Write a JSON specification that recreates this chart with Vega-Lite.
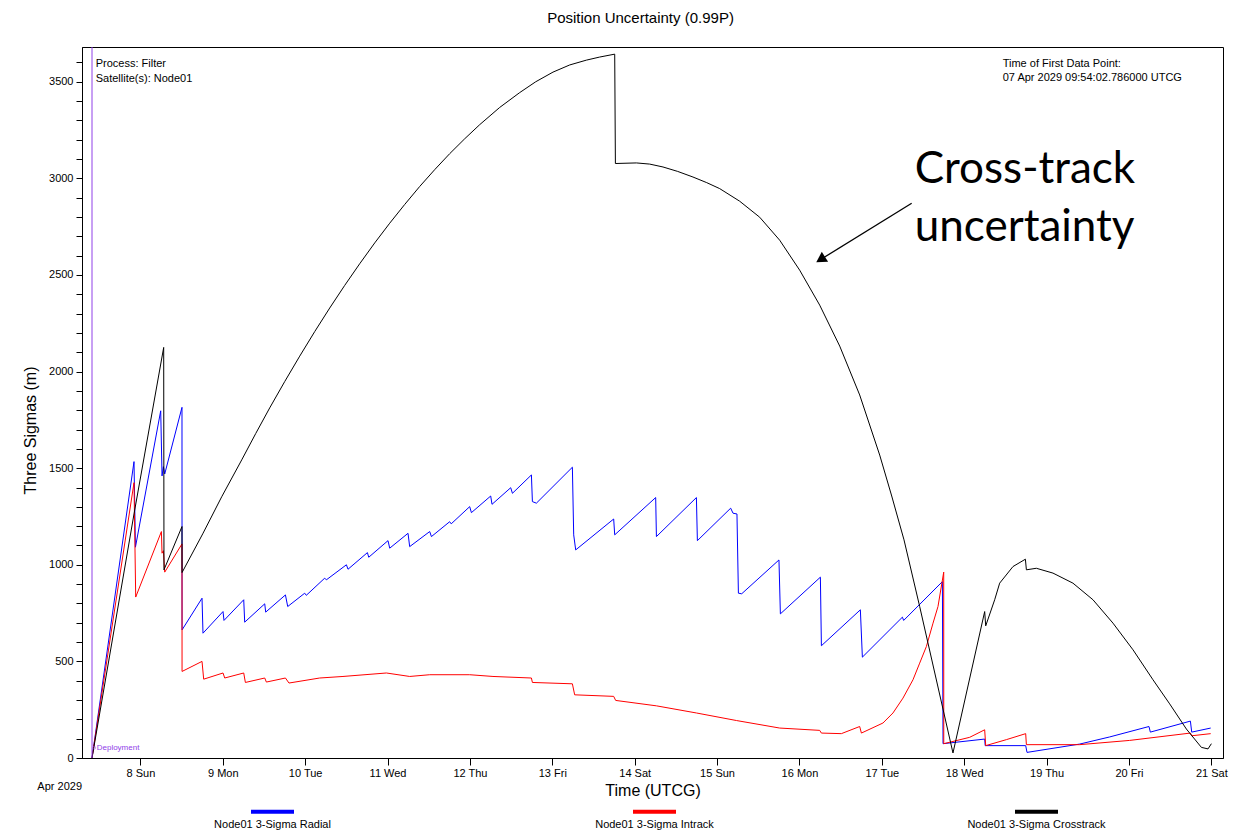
{
  "$schema": "https://vega.github.io/schema/vega-lite/v6.json",
  "width": 1141,
  "height": 711,
  "autosize": "none",
  "padding": {"left": 82, "top": 47, "right": 19, "bottom": 75},
  "background": "white",
  "title": {
    "text": "Position Uncertainty (0.99P)",
    "font": "Liberation Sans",
    "fontSize": 15,
    "fontWeight": "normal",
    "color": "#000",
    "anchor": "middle",
    "offset": 21,
    "dx": -12
  },
  "config": {
    "font": "Liberation Sans",
    "view": {"stroke": "#000", "strokeWidth": 1},
    "axis": {
      "grid": false,
      "domainColor": "#000",
      "tickColor": "#000",
      "labelColor": "#000",
      "titleColor": "#000",
      "labelFont": "Liberation Sans",
      "titleFont": "Liberation Sans",
      "titleFontWeight": "normal",
      "labelFontSize": 11
    }
  },
  "resolve": {"axis": {"y": "independent"}},
  "datasets": {
    "uncertainty": [
      {"series": "Node01 3-Sigma Radial", "t": "2029-04-07T09:54:00Z", "v": 0},
      {"series": "Node01 3-Sigma Radial", "t": "2029-04-07T22:08:00Z", "v": 1534},
      {"series": "Node01 3-Sigma Radial", "t": "2029-04-07T22:33:00Z", "v": 1091},
      {"series": "Node01 3-Sigma Radial", "t": "2029-04-08T05:55:00Z", "v": 1797},
      {"series": "Node01 3-Sigma Radial", "t": "2029-04-08T06:18:00Z", "v": 1460},
      {"series": "Node01 3-Sigma Radial", "t": "2029-04-08T06:42:00Z", "v": 1508},
      {"series": "Node01 3-Sigma Radial", "t": "2029-04-08T07:05:00Z", "v": 1470},
      {"series": "Node01 3-Sigma Radial", "t": "2029-04-08T12:07:00Z", "v": 1815},
      {"series": "Node01 3-Sigma Radial", "t": "2029-04-08T12:08:00Z", "v": 663},
      {"series": "Node01 3-Sigma Radial", "t": "2029-04-08T17:57:00Z", "v": 827},
      {"series": "Node01 3-Sigma Radial", "t": "2029-04-08T18:14:00Z", "v": 646},
      {"series": "Node01 3-Sigma Radial", "t": "2029-04-09T00:04:00Z", "v": 758},
      {"series": "Node01 3-Sigma Radial", "t": "2029-04-09T00:21:00Z", "v": 712},
      {"series": "Node01 3-Sigma Radial", "t": "2029-04-09T06:06:00Z", "v": 819},
      {"series": "Node01 3-Sigma Radial", "t": "2029-04-09T06:23:00Z", "v": 703},
      {"series": "Node01 3-Sigma Radial", "t": "2029-04-09T12:13:00Z", "v": 798},
      {"series": "Node01 3-Sigma Radial", "t": "2029-04-09T12:30:00Z", "v": 755},
      {"series": "Node01 3-Sigma Radial", "t": "2029-04-09T18:15:00Z", "v": 844},
      {"series": "Node01 3-Sigma Radial", "t": "2029-04-09T18:55:00Z", "v": 784},
      {"series": "Node01 3-Sigma Radial", "t": "2029-04-09T23:52:00Z", "v": 853},
      {"series": "Node01 3-Sigma Radial", "t": "2029-04-10T00:20:00Z", "v": 842},
      {"series": "Node01 3-Sigma Radial", "t": "2029-04-10T05:42:00Z", "v": 931},
      {"series": "Node01 3-Sigma Radial", "t": "2029-04-10T06:10:00Z", "v": 922},
      {"series": "Node01 3-Sigma Radial", "t": "2029-04-10T12:01:00Z", "v": 1000},
      {"series": "Node01 3-Sigma Radial", "t": "2029-04-10T12:29:00Z", "v": 977},
      {"series": "Node01 3-Sigma Radial", "t": "2029-04-10T18:08:00Z", "v": 1063},
      {"series": "Node01 3-Sigma Radial", "t": "2029-04-10T18:31:00Z", "v": 1039},
      {"series": "Node01 3-Sigma Radial", "t": "2029-04-11T00:08:00Z", "v": 1125},
      {"series": "Node01 3-Sigma Radial", "t": "2029-04-11T00:38:00Z", "v": 1086},
      {"series": "Node01 3-Sigma Radial", "t": "2029-04-11T05:58:00Z", "v": 1163},
      {"series": "Node01 3-Sigma Radial", "t": "2029-04-11T06:27:00Z", "v": 1094},
      {"series": "Node01 3-Sigma Radial", "t": "2029-04-11T12:17:00Z", "v": 1172},
      {"series": "Node01 3-Sigma Radial", "t": "2029-04-11T12:47:00Z", "v": 1146},
      {"series": "Node01 3-Sigma Radial", "t": "2029-04-11T18:06:00Z", "v": 1223},
      {"series": "Node01 3-Sigma Radial", "t": "2029-04-11T18:33:00Z", "v": 1212},
      {"series": "Node01 3-Sigma Radial", "t": "2029-04-11T23:56:00Z", "v": 1301},
      {"series": "Node01 3-Sigma Radial", "t": "2029-04-12T00:26:00Z", "v": 1270},
      {"series": "Node01 3-Sigma Radial", "t": "2029-04-12T06:03:00Z", "v": 1356},
      {"series": "Node01 3-Sigma Radial", "t": "2029-04-12T06:26:00Z", "v": 1313},
      {"series": "Node01 3-Sigma Radial", "t": "2029-04-12T11:53:00Z", "v": 1399},
      {"series": "Node01 3-Sigma Radial", "t": "2029-04-12T12:23:00Z", "v": 1370},
      {"series": "Node01 3-Sigma Radial", "t": "2029-04-12T17:55:00Z", "v": 1465},
      {"series": "Node01 3-Sigma Radial", "t": "2029-04-12T18:12:00Z", "v": 1327},
      {"series": "Node01 3-Sigma Radial", "t": "2029-04-12T19:22:00Z", "v": 1319},
      {"series": "Node01 3-Sigma Radial", "t": "2029-04-13T05:51:00Z", "v": 1505},
      {"series": "Node01 3-Sigma Radial", "t": "2029-04-13T06:14:00Z", "v": 1155},
      {"series": "Node01 3-Sigma Radial", "t": "2029-04-13T06:49:00Z", "v": 1077},
      {"series": "Node01 3-Sigma Radial", "t": "2029-04-13T17:53:00Z", "v": 1237},
      {"series": "Node01 3-Sigma Radial", "t": "2029-04-13T18:11:00Z", "v": 1155},
      {"series": "Node01 3-Sigma Radial", "t": "2029-04-14T06:07:00Z", "v": 1348},
      {"series": "Node01 3-Sigma Radial", "t": "2029-04-14T06:20:00Z", "v": 1146},
      {"series": "Node01 3-Sigma Radial", "t": "2029-04-14T17:59:00Z", "v": 1348},
      {"series": "Node01 3-Sigma Radial", "t": "2029-04-14T18:16:00Z", "v": 1125},
      {"series": "Node01 3-Sigma Radial", "t": "2029-04-15T03:58:00Z", "v": 1293},
      {"series": "Node01 3-Sigma Radial", "t": "2029-04-15T04:39:00Z", "v": 1267},
      {"series": "Node01 3-Sigma Radial", "t": "2029-04-15T05:48:00Z", "v": 1263},
      {"series": "Node01 3-Sigma Radial", "t": "2029-04-15T06:13:00Z", "v": 853},
      {"series": "Node01 3-Sigma Radial", "t": "2029-04-15T07:11:00Z", "v": 850},
      {"series": "Node01 3-Sigma Radial", "t": "2029-04-15T18:02:00Z", "v": 1025},
      {"series": "Node01 3-Sigma Radial", "t": "2029-04-15T18:27:00Z", "v": 746},
      {"series": "Node01 3-Sigma Radial", "t": "2029-04-16T06:06:00Z", "v": 936},
      {"series": "Node01 3-Sigma Radial", "t": "2029-04-16T06:24:00Z", "v": 581},
      {"series": "Node01 3-Sigma Radial", "t": "2029-04-16T17:45:00Z", "v": 767},
      {"series": "Node01 3-Sigma Radial", "t": "2029-04-16T18:20:00Z", "v": 522},
      {"series": "Node01 3-Sigma Radial", "t": "2029-04-17T06:00:00Z", "v": 729},
      {"series": "Node01 3-Sigma Radial", "t": "2029-04-17T06:22:00Z", "v": 712},
      {"series": "Node01 3-Sigma Radial", "t": "2029-04-17T17:39:00Z", "v": 913},
      {"series": "Node01 3-Sigma Radial", "t": "2029-04-17T17:50:00Z", "v": 74},
      {"series": "Node01 3-Sigma Radial", "t": "2029-04-18T05:58:00Z", "v": 98},
      {"series": "Node01 3-Sigma Radial", "t": "2029-04-18T06:07:00Z", "v": 64},
      {"series": "Node01 3-Sigma Radial", "t": "2029-04-18T17:55:00Z", "v": 64},
      {"series": "Node01 3-Sigma Radial", "t": "2029-04-18T18:18:00Z", "v": 29},
      {"series": "Node01 3-Sigma Radial", "t": "2029-04-19T09:38:00Z", "v": 72},
      {"series": "Node01 3-Sigma Radial", "t": "2029-04-19T18:23:00Z", "v": 109},
      {"series": "Node01 3-Sigma Radial", "t": "2029-04-20T05:50:00Z", "v": 163},
      {"series": "Node01 3-Sigma Radial", "t": "2029-04-20T06:14:00Z", "v": 134},
      {"series": "Node01 3-Sigma Radial", "t": "2029-04-20T17:54:00Z", "v": 191},
      {"series": "Node01 3-Sigma Radial", "t": "2029-04-20T18:17:00Z", "v": 134},
      {"series": "Node01 3-Sigma Radial", "t": "2029-04-20T23:49:00Z", "v": 155},

      {"series": "Node01 3-Sigma Intrack", "t": "2029-04-07T09:54:00Z", "v": 0},
      {"series": "Node01 3-Sigma Intrack", "t": "2029-04-07T22:08:00Z", "v": 1425},
      {"series": "Node01 3-Sigma Intrack", "t": "2029-04-07T22:38:00Z", "v": 833},
      {"series": "Node01 3-Sigma Intrack", "t": "2029-04-08T06:07:00Z", "v": 1172},
      {"series": "Node01 3-Sigma Intrack", "t": "2029-04-08T06:18:00Z", "v": 1060},
      {"series": "Node01 3-Sigma Intrack", "t": "2029-04-08T06:42:00Z", "v": 1073},
      {"series": "Node01 3-Sigma Intrack", "t": "2029-04-08T07:05:00Z", "v": 962},
      {"series": "Node01 3-Sigma Intrack", "t": "2029-04-08T12:07:00Z", "v": 1108},
      {"series": "Node01 3-Sigma Intrack", "t": "2029-04-08T12:08:00Z", "v": 448},
      {"series": "Node01 3-Sigma Intrack", "t": "2029-04-08T17:57:00Z", "v": 500},
      {"series": "Node01 3-Sigma Intrack", "t": "2029-04-08T18:26:00Z", "v": 408},
      {"series": "Node01 3-Sigma Intrack", "t": "2029-04-09T00:04:00Z", "v": 440},
      {"series": "Node01 3-Sigma Intrack", "t": "2029-04-09T00:34:00Z", "v": 414},
      {"series": "Node01 3-Sigma Intrack", "t": "2029-04-09T06:06:00Z", "v": 440},
      {"series": "Node01 3-Sigma Intrack", "t": "2029-04-09T06:35:00Z", "v": 391},
      {"series": "Node01 3-Sigma Intrack", "t": "2029-04-09T12:13:00Z", "v": 414},
      {"series": "Node01 3-Sigma Intrack", "t": "2029-04-09T12:42:00Z", "v": 393},
      {"series": "Node01 3-Sigma Intrack", "t": "2029-04-09T18:15:00Z", "v": 414},
      {"series": "Node01 3-Sigma Intrack", "t": "2029-04-09T19:17:00Z", "v": 388},
      {"series": "Node01 3-Sigma Intrack", "t": "2029-04-10T04:14:00Z", "v": 414},
      {"series": "Node01 3-Sigma Intrack", "t": "2029-04-10T11:01:00Z", "v": 422},
      {"series": "Node01 3-Sigma Intrack", "t": "2029-04-10T23:40:00Z", "v": 440},
      {"series": "Node01 3-Sigma Intrack", "t": "2029-04-11T06:27:00Z", "v": 422},
      {"series": "Node01 3-Sigma Intrack", "t": "2029-04-11T12:17:00Z", "v": 431},
      {"series": "Node01 3-Sigma Intrack", "t": "2029-04-11T23:56:00Z", "v": 431},
      {"series": "Node01 3-Sigma Intrack", "t": "2029-04-12T06:43:00Z", "v": 422},
      {"series": "Node01 3-Sigma Intrack", "t": "2029-04-12T17:55:00Z", "v": 414},
      {"series": "Node01 3-Sigma Intrack", "t": "2029-04-12T18:12:00Z", "v": 391},
      {"series": "Node01 3-Sigma Intrack", "t": "2029-04-13T05:51:00Z", "v": 384},
      {"series": "Node01 3-Sigma Intrack", "t": "2029-04-13T06:31:00Z", "v": 327},
      {"series": "Node01 3-Sigma Intrack", "t": "2029-04-13T17:53:00Z", "v": 319},
      {"series": "Node01 3-Sigma Intrack", "t": "2029-04-13T18:28:00Z", "v": 298},
      {"series": "Node01 3-Sigma Intrack", "t": "2029-04-14T06:20:00Z", "v": 270},
      {"series": "Node01 3-Sigma Intrack", "t": "2029-04-14T17:59:00Z", "v": 233},
      {"series": "Node01 3-Sigma Intrack", "t": "2029-04-15T05:38:00Z", "v": 194},
      {"series": "Node01 3-Sigma Intrack", "t": "2029-04-15T18:15:00Z", "v": 155},
      {"series": "Node01 3-Sigma Intrack", "t": "2029-04-16T05:54:00Z", "v": 143},
      {"series": "Node01 3-Sigma Intrack", "t": "2029-04-16T06:24:00Z", "v": 129},
      {"series": "Node01 3-Sigma Intrack", "t": "2029-04-16T12:13:00Z", "v": 126},
      {"series": "Node01 3-Sigma Intrack", "t": "2029-04-16T17:33:00Z", "v": 163},
      {"series": "Node01 3-Sigma Intrack", "t": "2029-04-16T18:03:00Z", "v": 129},
      {"series": "Node01 3-Sigma Intrack", "t": "2029-04-17T00:20:00Z", "v": 181},
      {"series": "Node01 3-Sigma Intrack", "t": "2029-04-17T03:15:00Z", "v": 233},
      {"series": "Node01 3-Sigma Intrack", "t": "2029-04-17T06:10:00Z", "v": 310},
      {"series": "Node01 3-Sigma Intrack", "t": "2029-04-17T09:05:00Z", "v": 405},
      {"series": "Node01 3-Sigma Intrack", "t": "2029-04-17T11:02:00Z", "v": 491},
      {"series": "Node01 3-Sigma Intrack", "t": "2029-04-17T12:59:00Z", "v": 577},
      {"series": "Node01 3-Sigma Intrack", "t": "2029-04-17T14:55:00Z", "v": 698},
      {"series": "Node01 3-Sigma Intrack", "t": "2029-04-17T16:22:00Z", "v": 784},
      {"series": "Node01 3-Sigma Intrack", "t": "2029-04-17T18:02:00Z", "v": 962},
      {"series": "Node01 3-Sigma Intrack", "t": "2029-04-17T18:03:00Z", "v": 74},
      {"series": "Node01 3-Sigma Intrack", "t": "2029-04-18T01:36:00Z", "v": 107},
      {"series": "Node01 3-Sigma Intrack", "t": "2029-04-18T05:58:00Z", "v": 146},
      {"series": "Node01 3-Sigma Intrack", "t": "2029-04-18T06:16:00Z", "v": 64},
      {"series": "Node01 3-Sigma Intrack", "t": "2029-04-18T12:17:00Z", "v": 95},
      {"series": "Node01 3-Sigma Intrack", "t": "2029-04-18T17:55:00Z", "v": 126},
      {"series": "Node01 3-Sigma Intrack", "t": "2029-04-18T18:07:00Z", "v": 69},
      {"series": "Node01 3-Sigma Intrack", "t": "2029-04-19T09:38:00Z", "v": 69},
      {"series": "Node01 3-Sigma Intrack", "t": "2029-04-20T00:13:00Z", "v": 91},
      {"series": "Node01 3-Sigma Intrack", "t": "2029-04-20T17:54:00Z", "v": 129},
      {"series": "Node01 3-Sigma Intrack", "t": "2029-04-20T18:17:00Z", "v": 115},
      {"series": "Node01 3-Sigma Intrack", "t": "2029-04-20T23:49:00Z", "v": 126},

      {"series": "Node01 3-Sigma Crosstrack", "t": "2029-04-07T09:54:00Z", "v": 0},
      {"series": "Node01 3-Sigma Crosstrack", "t": "2029-04-07T22:08:00Z", "v": 1263},
      {"series": "Node01 3-Sigma Crosstrack", "t": "2029-04-08T06:47:00Z", "v": 2125},
      {"series": "Node01 3-Sigma Crosstrack", "t": "2029-04-08T06:52:00Z", "v": 974},
      {"series": "Node01 3-Sigma Crosstrack", "t": "2029-04-08T12:07:00Z", "v": 1198},
      {"series": "Node01 3-Sigma Crosstrack", "t": "2029-04-08T12:08:00Z", "v": 960},
      {"series": "Node01 3-Sigma Crosstrack", "t": "2029-04-08T18:09:00Z", "v": 1160},
      {"series": "Node01 3-Sigma Crosstrack", "t": "2029-04-08T23:41:00Z", "v": 1352},
      {"series": "Node01 3-Sigma Crosstrack", "t": "2029-04-09T05:31:00Z", "v": 1543},
      {"series": "Node01 3-Sigma Crosstrack", "t": "2029-04-09T09:35:00Z", "v": 1679},
      {"series": "Node01 3-Sigma Crosstrack", "t": "2029-04-09T13:40:00Z", "v": 1812},
      {"series": "Node01 3-Sigma Crosstrack", "t": "2029-04-09T18:02:00Z", "v": 1948},
      {"series": "Node01 3-Sigma Crosstrack", "t": "2029-04-09T22:25:00Z", "v": 2080},
      {"series": "Node01 3-Sigma Crosstrack", "t": "2029-04-10T02:47:00Z", "v": 2207},
      {"series": "Node01 3-Sigma Crosstrack", "t": "2029-04-10T07:09:00Z", "v": 2329},
      {"series": "Node01 3-Sigma Crosstrack", "t": "2029-04-10T11:31:00Z", "v": 2446},
      {"series": "Node01 3-Sigma Crosstrack", "t": "2029-04-10T15:53:00Z", "v": 2558},
      {"series": "Node01 3-Sigma Crosstrack", "t": "2029-04-10T20:16:00Z", "v": 2666},
      {"series": "Node01 3-Sigma Crosstrack", "t": "2029-04-11T00:38:00Z", "v": 2768},
      {"series": "Node01 3-Sigma Crosstrack", "t": "2029-04-11T05:00:00Z", "v": 2865},
      {"series": "Node01 3-Sigma Crosstrack", "t": "2029-04-11T09:22:00Z", "v": 2958},
      {"series": "Node01 3-Sigma Crosstrack", "t": "2029-04-11T13:44:00Z", "v": 3045},
      {"series": "Node01 3-Sigma Crosstrack", "t": "2029-04-11T18:07:00Z", "v": 3128},
      {"series": "Node01 3-Sigma Crosstrack", "t": "2029-04-11T22:29:00Z", "v": 3205},
      {"series": "Node01 3-Sigma Crosstrack", "t": "2029-04-12T02:51:00Z", "v": 3278},
      {"series": "Node01 3-Sigma Crosstrack", "t": "2029-04-12T08:40:00Z", "v": 3367},
      {"series": "Node01 3-Sigma Crosstrack", "t": "2029-04-12T14:30:00Z", "v": 3444},
      {"series": "Node01 3-Sigma Crosstrack", "t": "2029-04-12T19:10:00Z", "v": 3500},
      {"series": "Node01 3-Sigma Crosstrack", "t": "2029-04-13T00:12:00Z", "v": 3550},
      {"series": "Node01 3-Sigma Crosstrack", "t": "2029-04-13T05:04:00Z", "v": 3587},
      {"series": "Node01 3-Sigma Crosstrack", "t": "2029-04-13T09:56:00Z", "v": 3612},
      {"series": "Node01 3-Sigma Crosstrack", "t": "2029-04-13T13:48:00Z", "v": 3628},
      {"series": "Node01 3-Sigma Crosstrack", "t": "2029-04-13T18:11:00Z", "v": 3643},
      {"series": "Node01 3-Sigma Crosstrack", "t": "2029-04-13T18:23:00Z", "v": 3077},
      {"series": "Node01 3-Sigma Crosstrack", "t": "2029-04-14T00:30:00Z", "v": 3080},
      {"series": "Node01 3-Sigma Crosstrack", "t": "2029-04-14T04:22:00Z", "v": 3074},
      {"series": "Node01 3-Sigma Crosstrack", "t": "2029-04-14T08:15:00Z", "v": 3059},
      {"series": "Node01 3-Sigma Crosstrack", "t": "2029-04-14T12:32:00Z", "v": 3036},
      {"series": "Node01 3-Sigma Crosstrack", "t": "2029-04-14T16:59:00Z", "v": 3007},
      {"series": "Node01 3-Sigma Crosstrack", "t": "2029-04-14T20:59:00Z", "v": 2978},
      {"series": "Node01 3-Sigma Crosstrack", "t": "2029-04-15T00:46:00Z", "v": 2947},
      {"series": "Node01 3-Sigma Crosstrack", "t": "2029-04-15T06:35:00Z", "v": 2882},
      {"series": "Node01 3-Sigma Crosstrack", "t": "2029-04-15T12:25:00Z", "v": 2799},
      {"series": "Node01 3-Sigma Crosstrack", "t": "2029-04-15T18:15:00Z", "v": 2680},
      {"series": "Node01 3-Sigma Crosstrack", "t": "2029-04-16T00:04:00Z", "v": 2525},
      {"series": "Node01 3-Sigma Crosstrack", "t": "2029-04-16T05:54:00Z", "v": 2344},
      {"series": "Node01 3-Sigma Crosstrack", "t": "2029-04-16T11:44:00Z", "v": 2132},
      {"series": "Node01 3-Sigma Crosstrack", "t": "2029-04-16T17:33:00Z", "v": 1879},
      {"series": "Node01 3-Sigma Crosstrack", "t": "2029-04-16T23:23:00Z", "v": 1568},
      {"series": "Node01 3-Sigma Crosstrack", "t": "2029-04-17T02:53:00Z", "v": 1356},
      {"series": "Node01 3-Sigma Crosstrack", "t": "2029-04-17T06:28:00Z", "v": 1129},
      {"series": "Node01 3-Sigma Crosstrack", "t": "2029-04-17T11:02:00Z", "v": 784},
      {"series": "Node01 3-Sigma Crosstrack", "t": "2029-04-17T20:44:00Z", "v": 26},
      {"series": "Node01 3-Sigma Crosstrack", "t": "2029-04-18T05:58:00Z", "v": 758},
      {"series": "Node01 3-Sigma Crosstrack", "t": "2029-04-18T06:16:00Z", "v": 684},
      {"series": "Node01 3-Sigma Crosstrack", "t": "2029-04-18T08:53:00Z", "v": 819},
      {"series": "Node01 3-Sigma Crosstrack", "t": "2029-04-18T10:20:00Z", "v": 905},
      {"series": "Node01 3-Sigma Crosstrack", "t": "2029-04-18T14:13:00Z", "v": 991},
      {"series": "Node01 3-Sigma Crosstrack", "t": "2029-04-18T17:50:00Z", "v": 1029},
      {"series": "Node01 3-Sigma Crosstrack", "t": "2029-04-18T18:07:00Z", "v": 974},
      {"series": "Node01 3-Sigma Crosstrack", "t": "2029-04-18T21:02:00Z", "v": 982},
      {"series": "Node01 3-Sigma Crosstrack", "t": "2029-04-19T01:52:00Z", "v": 957},
      {"series": "Node01 3-Sigma Crosstrack", "t": "2029-04-19T07:41:00Z", "v": 905},
      {"series": "Node01 3-Sigma Crosstrack", "t": "2029-04-19T13:31:00Z", "v": 819},
      {"series": "Node01 3-Sigma Crosstrack", "t": "2029-04-19T19:21:00Z", "v": 698},
      {"series": "Node01 3-Sigma Crosstrack", "t": "2029-04-20T01:11:00Z", "v": 560},
      {"series": "Node01 3-Sigma Crosstrack", "t": "2029-04-20T07:00:00Z", "v": 405},
      {"series": "Node01 3-Sigma Crosstrack", "t": "2029-04-20T11:52:00Z", "v": 280},
      {"series": "Node01 3-Sigma Crosstrack", "t": "2029-04-20T16:44:00Z", "v": 150},
      {"series": "Node01 3-Sigma Crosstrack", "t": "2029-04-20T21:06:00Z", "v": 55},
      {"series": "Node01 3-Sigma Crosstrack", "t": "2029-04-20T23:02:00Z", "v": 47},
      {"series": "Node01 3-Sigma Crosstrack", "t": "2029-04-21T00:01:00Z", "v": 74}
    ],
    "info": [
      {"t": "2029-04-07T10:59:00Z", "v": 3590, "text": "Process: Filter"},
      {"t": "2029-04-07T10:59:00Z", "v": 3513, "text": "Satellite(s): Node01"},
      {"t": "2029-04-18T11:13:00Z", "v": 3590, "text": "Time of First Data Point:"},
      {"t": "2029-04-18T11:13:00Z", "v": 3518, "text": "07 Apr 2029 09:54:02.786000 UTCG"}
    ],
    "callout": [
      {"t": "2029-04-17T09:35:00Z", "v": 2975, "text": "Cross-track"},
      {"t": "2029-04-17T09:35:00Z", "v": 2675, "text": "uncertainty"}
    ]
  },
  "layer": [
    {
      "data": {"name": "uncertainty"},
      "mark": {"type": "line", "strokeWidth": 1, "interpolate": "linear"},
      "encoding": {
        "x": {
          "field": "t",
          "type": "temporal",
          "scale": {
            "type": "utc",
            "nice": false,
            "domain": [
              {"year": 2029, "month": 4, "date": 7, "hours": 6, "minutes": 59, "utc": true},
              {"year": 2029, "month": 4, "date": 21, "hours": 3, "minutes": 24, "utc": true}
            ]
          },
          "axis": {
            "title": "Time (UTCG)",
            "titleFontSize": 16,
            "titlePadding": 4,
            "labelExpr": "utcFormat(datum.value, '%-d %a')",
            "labelFontSize": 11,
            "labelPadding": 2,
            "labelFlush": false,
            "labelOverlap": false,
            "tickSize": 7,
            "values": [
              {"year": 2029, "month": 4, "date": 8, "utc": true},
              {"year": 2029, "month": 4, "date": 9, "utc": true},
              {"year": 2029, "month": 4, "date": 10, "utc": true},
              {"year": 2029, "month": 4, "date": 11, "utc": true},
              {"year": 2029, "month": 4, "date": 12, "utc": true},
              {"year": 2029, "month": 4, "date": 13, "utc": true},
              {"year": 2029, "month": 4, "date": 14, "utc": true},
              {"year": 2029, "month": 4, "date": 15, "utc": true},
              {"year": 2029, "month": 4, "date": 16, "utc": true},
              {"year": 2029, "month": 4, "date": 17, "utc": true},
              {"year": 2029, "month": 4, "date": 18, "utc": true},
              {"year": 2029, "month": 4, "date": 19, "utc": true},
              {"year": 2029, "month": 4, "date": 20, "utc": true},
              {"year": 2029, "month": 4, "date": 21, "utc": true}
            ]
          }
        },
        "y": {
          "field": "v",
          "type": "quantitative",
          "scale": {"domain": [0, 3680], "nice": false, "zero": true},
          "axis": {
            "orient": "left",
            "title": "Three Sigmas (m)",
            "titleFontSize": 16,
            "titlePadding": 10,
            "titleY": 383,
            "labelFontSize": 11,
            "labelPadding": 3,
            "labelOverlap": false,
            "format": "d",
            "tickSize": 6,
            "values": [0, 500, 1000, 1500, 2000, 2500, 3000, 3500]
          }
        },
        "color": {
          "field": "series",
          "type": "nominal",
          "scale": {
            "domain": ["Node01 3-Sigma Radial", "Node01 3-Sigma Intrack", "Node01 3-Sigma Crosstrack"],
            "range": ["#0000FF", "#FF0000", "#000000"]
          },
          "legend": {
            "title": null,
            "orient": "none",
            "legendX": 167,
            "legendY": 741,
            "direction": "horizontal",
            "columns": 3,
            "gridAlign": "all",
            "columnPadding": 243,
            "padding": 0,
            "symbolType": "stroke",
            "symbolSize": 1849,
            "symbolStrokeWidth": 4,
            "labelAlign": "center",
            "labelBaseline": "middle",
            "labelOffset": -23.5,
            "labelExpr": "['', '', datum.label]",
            "labelFontSize": 11,
            "labelColor": "#000",
            "labelLimit": 300
          }
        }
      }
    },
    {
      "data": {"values": [{"t": "2029-04-07T09:54:02Z"}]},
      "mark": {"type": "rule", "color": "#9040E8", "strokeWidth": 1},
      "encoding": {"x": {"field": "t", "type": "temporal"}}
    },
    {
      "data": {"values": [{"t": "2029-04-07T10:32:00Z", "v": 53}]},
      "mark": {"type": "point", "shape": "circle", "size": 8, "color": "#9040E8", "filled": false, "strokeWidth": 0.8},
      "encoding": {
        "x": {"field": "t", "type": "temporal"},
        "y": {
          "field": "v",
          "type": "quantitative",
          "axis": {
            "orient": "left",
            "title": null,
            "labels": false,
            "domain": false,
            "tickSize": 6,
            "values": [100, 200, 300, 400, 600, 700, 800, 900, 1100, 1200, 1300, 1400, 1600, 1700, 1800, 1900, 2100, 2200, 2300, 2400, 2600, 2700, 2800, 2900, 3100, 3200, 3300, 3400, 3600]
          }
        }
      }
    },
    {
      "data": {"values": [{"t": "2029-04-07T11:16:00Z", "v": 53, "text": "Deployment"}]},
      "mark": {"type": "text", "align": "left", "baseline": "middle", "fontSize": 8, "color": "#9040E8"},
      "encoding": {
        "x": {"field": "t", "type": "temporal"},
        "y": {"field": "v", "type": "quantitative", "axis": null},
        "text": {"field": "text"}
      }
    },
    {
      "data": {"name": "info"},
      "mark": {"type": "text", "align": "left", "baseline": "middle", "fontSize": 11, "color": "#000"},
      "encoding": {
        "x": {"field": "t", "type": "temporal"},
        "y": {"field": "v", "type": "quantitative", "axis": null},
        "text": {"field": "text"}
      }
    },
    {
      "data": {"values": [{"t": "2029-04-07T00:29:00Z", "v": -148, "text": "Apr 2029"}]},
      "mark": {"type": "text", "align": "center", "baseline": "middle", "fontSize": 11, "color": "#000"},
      "encoding": {
        "x": {"field": "t", "type": "temporal"},
        "y": {"field": "v", "type": "quantitative", "axis": null},
        "text": {"field": "text"}
      }
    },
    {
      "data": {"name": "callout"},
      "mark": {"type": "text", "align": "left", "baseline": "alphabetic", "font": "Lato", "fontSize": 44, "color": "#000"},
      "encoding": {
        "x": {"field": "t", "type": "temporal"},
        "y": {"field": "v", "type": "quantitative", "axis": null},
        "text": {"field": "text"}
      }
    },
    {
      "data": {"values": [{"t": "2029-04-17T08:42:00Z", "v": 2871, "t2": "2029-04-16T06:10:00Z", "v2": 2580}]},
      "mark": {"type": "rule", "color": "#000", "strokeWidth": 1.3},
      "encoding": {
        "x": {"field": "t", "type": "temporal"},
        "x2": {"field": "t2"},
        "y": {"field": "v", "type": "quantitative", "axis": null},
        "y2": {"field": "v2"}
      }
    },
    {
      "data": {"values": [{"t": "2029-04-16T06:10:00Z", "v": 2580}]},
      "mark": {"type": "point", "shape": "triangle-up", "angle": 238, "size": 140, "filled": true, "color": "#000", "opacity": 1},
      "encoding": {
        "x": {"field": "t", "type": "temporal"},
        "y": {"field": "v", "type": "quantitative", "axis": null}
      }
    }
  ]
}
